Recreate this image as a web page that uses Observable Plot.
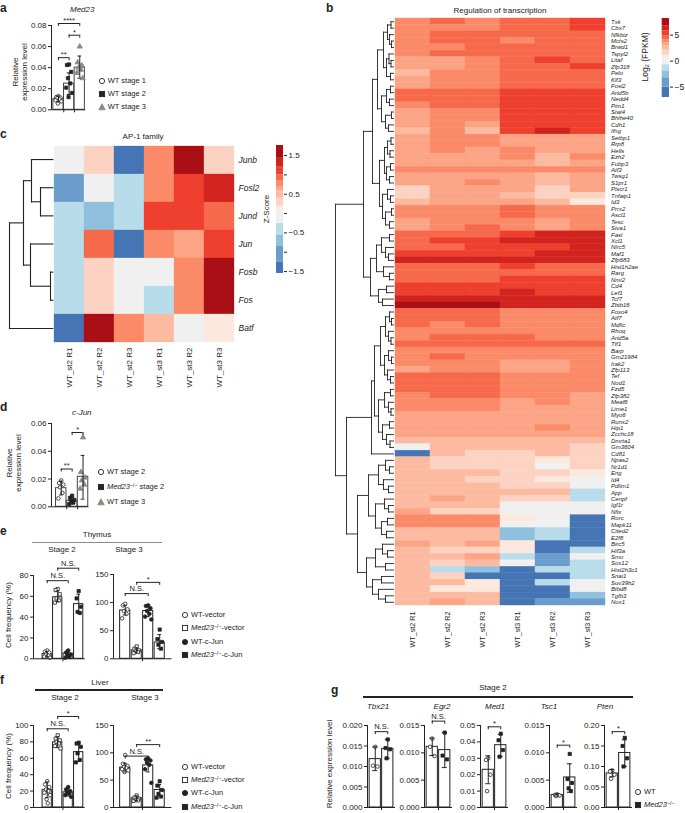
<!DOCTYPE html>
<html><head><meta charset="utf-8">
<script src="https://cdn.jsdelivr.net/npm/d3@7"></script>
<script src="https://cdn.jsdelivr.net/npm/@observablehq/plot@0.6"></script>
<style>
body{margin:0;background:#fff;}
#fig{position:relative;width:685px;height:813px;overflow:hidden;font-family:"Liberation Sans",Arial,Helvetica,sans-serif;color:#222;background:#fff;}
.abs{position:absolute;white-space:nowrap;line-height:1;}
sup{font-size:70%;line-height:0;vertical-align:0.45em;}
</style></head>
<body><div id="fig"></div>
<script>
// ---------------- DATA ----------------
// panel a (Med23)
const aMean = [0.0101, 0.0248, 0.0400];
const aLo = [0.0075, 0.0145, 0.0300];
const aHi = [0.0130, 0.0350, 0.0510];
const aPts = [[0.0130,0.0120,0.0115,0.0110,0.0100,0.0090,0.0080,0.0060],
              [0.0430,0.0425,0.0360,0.0300,0.0250,0.0210,0.0160,0.0120],
              [0.0600,0.0450,0.0420,0.0400,0.0380,0.0350,0.0300]];
const aBr = [[0,1,0.0495,"**"],[1,2,0.0708,"*"],[0,2,0.0819,"****"]];
// panel d (c-Jun)
const dMean = [0.0134, 0.0043, 0.0216];
const dLo = [0.0085, 0.0020, 0.0055];
const dHi = [0.0185, 0.0068, 0.0370];
const dPts = [[0.0190,0.0170,0.0160,0.0140,0.0100,0.0060],
              [0.0080,0.0065,0.0050,0.0040,0.0030,0.0020],
              [0.0500,0.0250,0.0210,0.0190,0.0160,0.0130]];
const dBr = [[0,1,0.0272,"**"],[1,2,0.0535,"*"]];
// panel e (thymus)
const eLMean = [4.5, 59, 5, 52.5], eLLo = [2, 55, 2, 45], eLHi = [7, 65, 8, 62];
const eLPts = [[8,7,6,4,3,2,1],[67,66,62,58,56,54],[8,6,4,3,2,1],[65,58,50,45,44]];
const eLBr = [[0,2,75,"N.S."],[1,3,87,"N.S."]];
const eRMean = [86, 15, 85, 29], eRLo = [78, 12, 75, 18], eRHi = [95, 19, 94, 43];
const eRPts = [[98,95,88,85,80,72],[22,18,15,13,12,10],[95,94,90,85,80,75,70],[52,35,30,25,18]];
const eRBr = [[0,2,116,"N.S."],[1,3,136,"*"]];
// panel f (liver)
const fLMean = [21.5, 79.5, 18.5, 67.5], fLLo = [12, 73, 14, 56], fLHi = [31, 86, 24, 77];
const fLPts = [[32,28,25,22,20,18,15,10,5],[88,84,82,80,78,75,72],[25,22,20,18,17,15,13],[79,78,74,66,58,55]];
const fLBr = [[0,2,96,"N.S."],[1,3,111,"*"]];
const fRMean = [73, 17, 77, 32], fRLo = [65, 13, 65, 22], fRHi = [81, 21, 88, 42];
const fRPts = [[96,80,76,74,72,70,68,65],[22,18,16,14,13,12],[90,88,86,82,78,70,45],[48,40,32,25,20,18]];
const fRBr = [[0,2,94,"N.S."],[1,3,115,"**"]];
// panel g (stage 2, WT vs Med23-/-)
const gGenes = ["Tbx21","Egr2","Med1","Tsc1","Pten"];
const gMax = [0.020, 0.015, 0.05, 0.015, 0.20];
const gStep = [0.005, 0.005, 0.01, 0.005, 0.05];
const gMean = [[0.0118,0.0143],[0.0111,0.0105],[0.023,0.038],[0.0023,0.0055],[0.083,0.133]];
const gLo = [[0.0090,0.0120],[0.0095,0.0073],[0.0145,0.031],[0.0021,0.0028],[0.075,0.100]];
const gHi = [[0.0148,0.0166],[0.0127,0.0137],[0.0315,0.0445],[0.0025,0.0080],[0.093,0.165]];
const gPtsWT = [[0.0148,0.0102,0.0100],[0.0126,0.0111,0.0094],[0.030,0.029,0.020,0.010],[0.0024,0.0023,0.0022,0.0021],[0.090,0.088,0.080,0.070]];
const gPtsKO = [[0.0166,0.0145,0.0142,0.0120],[0.0137,0.0095,0.0088],[0.045,0.041,0.035,0.031],[0.0098,0.0052,0.0045,0.0035,0.0030],[0.170,0.150,0.120,0.100]];
const gSig = [["N.S.",0.0185],["N.S.",0.0158],["*",0.0492],["*",0.0114],["*",0.185]];
// panel c (AP-1 family, z-score)
const cGenes = ["Junb","Fosl2","Jund","Jun","Fosb","Fos","Batf"];
const samples = ["WT_st2 R1","WT_st2 R2","WT_st2 R3","WT_st3 R1","WT_st3 R2","WT_st3 R3"];
const cZ = [
  [-0.1, 0.25, -1.5, 0.75, 1.6, 0.25],
  [-1.0, -0.1, -0.4, 0.75, 1.1, 1.3],
  [-0.4, -0.7, -0.4, 1.1, 1.1, 0.9],
  [-0.4, 0.9, -1.5, 0.8, 0.6, 1.1],
  [-0.4, 0.25, -0.1, -0.1, 0.75, 1.6],
  [-0.4, 0.25, -0.1, -0.4, 0.75, 1.6],
  [-1.5, 1.6, 0.75, 0.45, -0.1, 0.15]
];
// c dendrogram merges: [first row, last row, height]
const cTree = [[0,6,43.3],[0,5,29.3],[0,2,21.3],[1,2,12.3],[3,5,22.3],[4,5,2.3]];
// panel b (regulation of transcription, log2 FPKM)
const bGenes = ["Txk","Cbx7","Nfkbiz","Mcts2","Brwd1","Tspyl2","Litaf","Zfp318","Pelo","Klf3",
"Fosl2","Arid5b","Nedd4","Pim1","Stat4","Bhlhe40","Cdh1","Ifng","Setbp1","Rrp8",
"Hells","Ezh2","Fubp3","Atf3","Twsg1","S1pr1","Plscr1","Tnfaip1","Id3","Prrx2",
"Ascl1","Tesc","Siva1","Fasl","Xcl1","Nlrc5","Maf1","Zfp683","Hist1h2ae","Rarg",
"Nmi2","Cd4","Lef1","Tcf7","Zbtb16","Foxo4","Atf7","Mdfic","Rhoq","Arid5a",
"Ttf1","Barp","Gm21984","Irak2","Zfp113","Tef","Nod1","Fzd5","Zfp382","Meaf6",
"Lime1","Myo6","Runx2","Hip1","Zcchc18","Dmrta1","Gm3604","Cd81","Npas2","Nr1d1",
"Eng","Id4","Pdlim1","App","Cenpf","Igf1r","Nfix","Rorc","Mapk11","Cited2",
"E2f8","Birc5","Hif3a","Smo","Sox12","Hist2h3c1","Snai1","Suv39h2","Btbd8","Tgfb3","Nox1"];
const bVals = [
[3.8,4.5,3.8,4.3,4.3,5.3],[3.8,3.8,3.8,4.3,4.3,5.3],[3.8,4.3,4.3,4.3,4.3,4.3],[3.8,4.3,4.3,3.8,4.3,4.3],
[3.8,3.8,4.3,4.3,4.3,4.3],[3.8,4.3,4.3,4.3,4.3,4.3],[3.3,3.3,3.8,4.3,5.3,4.3],[3.3,3.3,3.8,4.3,4.3,5.3],
[2.6,3.8,3.8,4.3,4.3,4.3],[3.3,3.8,3.8,4.3,4.3,4.3],[3.3,3.8,3.8,4.3,4.3,4.3],[4.3,4.3,4.3,5.3,5.3,5.3],
[4.3,4.3,4.3,5.3,5.3,5.3],[3.8,4.3,4.3,5.3,5.3,5.3],[3.3,3.8,3.8,5.3,5.3,5.3],[3.3,3.8,3.8,5.3,5.3,5.3],
[3.3,3.8,3.0,5.3,5.3,5.3],[2.6,3.8,2.6,5.3,6.3,5.3],[3.3,3.8,3.8,3.3,3.3,3.3],[3.3,3.8,3.8,3.3,3.3,3.3],
[3.3,3.8,3.3,3.8,3.0,3.3],[3.0,3.3,3.3,3.8,2.6,3.8],[3.3,3.3,3.3,3.3,2.6,3.3],[3.8,3.8,3.8,3.8,3.8,3.8],
[3.0,3.3,3.3,3.3,2.6,3.3],[3.0,3.3,3.8,3.3,2.6,3.3],[2.0,3.3,3.3,3.0,1.8,3.0],[2.0,3.0,3.3,2.6,2.0,2.0],
[2.6,3.3,3.3,3.3,2.6,0.8],[3.8,3.8,3.8,4.3,3.8,3.8],[3.8,3.8,3.8,4.3,3.8,3.8],[3.3,3.8,3.8,3.8,3.3,3.8],
[3.3,3.8,4.3,3.8,3.3,3.8],[4.3,4.3,4.3,5.3,6.3,6.3],[4.3,5.3,5.3,6.3,6.3,6.3],[4.3,4.3,5.3,5.3,5.3,5.8],
[5.3,5.3,5.3,5.3,6.3,6.3],[6.3,6.3,6.3,6.3,6.3,6.3],[4.3,4.3,4.3,5.3,4.5,4.5],[4.3,4.3,4.3,4.3,4.5,4.5],
[4.3,4.3,4.3,5.3,5.3,5.3],[5.3,5.3,5.3,5.3,5.3,5.3],[5.3,5.3,5.3,6.0,5.3,5.3],[6.3,6.3,6.3,6.3,6.3,6.3],
[7.5,7.5,7.5,6.3,6.3,6.3],[4.3,4.3,4.3,3.8,3.8,3.8],[4.3,4.3,4.3,3.8,3.8,3.8],[4.3,3.8,4.3,3.8,3.8,3.8],
[3.8,3.8,3.8,3.8,3.8,3.8],[3.8,4.3,4.3,4.3,3.8,3.8],[4.3,4.3,4.3,4.3,4.3,4.5],[3.8,3.8,3.8,3.8,3.8,3.8],
[3.8,4.3,3.8,3.8,3.8,3.8],[3.8,3.8,3.8,3.3,3.3,3.8],[3.3,3.8,3.8,3.3,3.3,3.8],[4.3,4.3,4.3,3.8,3.8,3.8],
[4.3,4.3,4.3,3.8,3.8,3.8],[4.3,4.3,4.3,3.8,3.8,3.8],[3.8,4.3,4.3,3.8,3.8,3.3],[3.8,3.8,3.8,3.3,3.8,3.3],
[3.8,3.8,3.8,3.3,3.3,3.3],[3.3,3.3,3.3,3.3,3.3,3.3],[3.3,3.3,3.3,3.3,3.3,3.3],[3.3,3.3,3.3,3.3,3.8,3.3],
[3.3,3.3,3.3,3.0,3.3,3.0],[2.6,2.6,2.6,2.6,2.6,2.6],[0.0,2.6,2.6,2.6,2.6,2.0],[-6,2.6,2.0,2.0,2.6,2.0],
[2.6,2.0,2.0,1.8,0.8,1.8],[2.6,2.0,2.0,1.8,0.0,1.8],[2.6,2.6,2.6,2.0,1.5,0.8],[2.6,2.6,2.0,2.0,0.8,0.0],
[2.6,2.6,2.6,2.0,1.8,0.0],[2.6,2.6,2.6,2.6,2.6,-1.5],[2.6,3.3,2.6,1.5,1.5,-1.5],[2.6,2.6,2.6,0,0,0],
[3.0,1.5,1.5,0,0,0],[3.8,3.8,3.8,0.8,0,-6],[3.8,3.8,3.8,0,0,-6],[2.6,2.6,2.6,-2.5,-1.5,-6],
[2.6,2.6,2.6,-2.5,-1.5,-6],[3.0,2.6,3.0,0.8,-6,-6],[2.6,1.5,1.5,0.8,-6,-1.5],[2.6,2.6,3.3,-1.5,-4,0],
[2.6,1.5,2.6,0,-4,-1.5],[2.6,-1.5,-2.5,-6,-1.5,-1.5],[2.6,1.5,-6,-6,-6,-1.5],[2.6,2.6,0.8,-6,-1.5,0],
[2.6,0.8,0.8,-6,-6,0],[2.6,2.6,2.6,-6,-6,-2.5],[2.6,3.3,2.6,-6,-4,-4]];
// b dendrogram merges: [first row, last row, height]
const bTree = [[0,90,58],
[0,44,30],[0,32,21],[0,17,16],[0,9,10],[0,4,6],[0,1,2.5],[2,4,4],[3,4,2],[5,9,7],[5,7,4.5],[6,7,2.5],[8,9,3],
[10,17,12],[10,13,7],[10,11,3],[12,13,4],[14,17,8],[14,15,2],[16,17,5],
[18,32,14],[18,25,9],[18,21,6],[18,19,2.5],[20,21,3.5],[22,25,7],[22,23,3],[24,25,4],
[26,32,11],[26,28,6],[27,28,3],[29,32,8],[29,30,2],[31,32,4],
[33,44,23],[33,40,17],[33,37,12],[33,34,4],[35,37,8],[36,37,5],[38,40,10],[39,40,4],[41,44,15],[41,42,7],[43,44,11],
[45,90,47],[45,67,22],[45,66,19],[45,56,13],[45,50,8],[45,47,4],[46,47,2],[48,50,5],[49,50,2.5],
[51,56,9],[51,53,5],[52,53,2],[54,56,6],[55,56,3],[57,66,15],[57,61,9],[57,58,3],[59,61,5],[60,61,2.5],
[62,66,11],[62,63,4],[64,66,7],[65,66,3.5],
[68,90,36],[68,80,25],[68,73,15],[68,70,8],[69,70,4],[71,73,10],[72,73,5],[74,80,18],[74,76,9],[75,76,5],
[77,80,12],[77,78,6],[79,80,7],[81,90,27],[81,85,18],[81,83,11],[82,83,6],[84,85,8],[86,90,21],[86,87,12],[88,90,15],[89,90,8]];
// colour keys
const PAL = ["#4575b4","#6a9dcb","#8fc0dd","#b8dcea","#f0f0f0","#fde8de","#fcd3c2","#fcbba1","#fca486","#fb8a68","#f7694b","#ef3f2e","#d3231e","#a90f15"];
const bThr = [-5,-3.2,-2,-0.7,0.4,1.2,2.2,2.9,3.5,4.1,4.8,5.8,6.8];
const cThr = [-1.25,-0.85,-0.55,-0.25,0.1,0.2,0.4,0.6,0.7,0.85,1.0,1.2,1.45];
const bKey = [-7, 8.2], bKeyTicks = [-5, 0, 5];
const cKey = [-1.55, 1.76], cKeyTicks = [-1.5,-1,-0.5,0,0.5,1,1.5];

// ---------------- HELPERS ----------------
const FONT = '"Liberation Sans", Arial, Helvetica, sans-serif';
const fig = document.getElementById("fig");
const STYLE = {fontFamily: FONT, fontSize: "8px", color: "#222", background: "transparent", overflow: "visible"};
function place(el, x, y) { el.style.position = "absolute"; el.style.left = x + "px"; el.style.top = y + "px"; el.style.overflow = "visible"; fig.appendChild(el); }
function txt(html, x, y, o = {}) {
  const d = document.createElement("div");
  d.className = "abs"; d.innerHTML = html;
  d.style.left = x + "px"; d.style.top = y + "px";
  d.style.fontSize = (o.size || 8) + "px";
  if (o.bold) d.style.fontWeight = "bold";
  if (o.italic) d.style.fontStyle = "italic";
  if (o.lh) { d.style.lineHeight = o.lh; d.style.textAlign = "center"; }
  const ax = o.rotate ? "-50%" : (o.anchor === "middle" ? "-50%" : o.anchor === "end" ? "-100%" : "0");
  d.style.transform = `translate(${ax},-50%)` + (o.rotate ? ` rotate(${o.rotate}deg)` : "");
  fig.appendChild(d);
}
function hline(x1, x2, y, w, col) {
  const d = document.createElement("div");
  d.style.cssText = `position:absolute;left:${x1}px;top:${y - w/2}px;width:${x2-x1}px;height:${w}px;background:${col};`;
  fig.appendChild(d);
}
function legendItem(x, cy, sym, html) {
  const ns = "http://www.w3.org/2000/svg";
  const s = document.createElementNS(ns, "svg");
  s.setAttribute("width", 10); s.setAttribute("height", 10);
  s.style.cssText = `position:absolute;left:${x-5}px;top:${cy-5}px;overflow:visible`;
  let el;
  if (sym[1] === "c") { el = document.createElementNS(ns, "circle"); el.setAttribute("cx", 5); el.setAttribute("cy", 5); el.setAttribute("r", 2.6); }
  else if (sym[1] === "s") { el = document.createElementNS(ns, "rect"); el.setAttribute("x", 2.4); el.setAttribute("y", 2.4); el.setAttribute("width", 5.2); el.setAttribute("height", 5.2); }
  else { el = document.createElementNS(ns, "polygon"); el.setAttribute("points", "5,1.8 8.2,7.8 1.8,7.8"); }
  const open = sym[0] === "o";
  const grey = sym === "gt";
  el.setAttribute("fill", open ? "white" : grey ? "#8a8a8a" : "#222");
  el.setAttribute("stroke", grey ? "#8a8a8a" : "#222");
  el.setAttribute("stroke-width", 0.9);
  s.appendChild(el); fig.appendChild(s);
  txt(html, x + 6, cy, {size: 7.5});
}
const JIT = [0, -0.22, 0.22, -0.12, 0.12, -0.3, 0.3, -0.06, 0.06];
const STY = {
  oc: {symbol: "circle", fill: "white", stroke: "#222", r: 1.8},
  fc: {symbol: "circle", fill: "#222", stroke: "#222", r: 1.8},
  os: {symbol: "square", fill: "white", stroke: "#222", r: 1.8},
  fs: {symbol: "square", fill: "#222", stroke: "#222", r: 1.8},
  gt: {symbol: "triangle", fill: "#8a8a8a", stroke: "#8a8a8a", r: 2.0}
};
function barChart(c) {
  const n = c.mean.length;
  const L = c.axisX - 34, T = c.yTop - 28;
  const xEnd = c.xEnd ?? c.x1;
  const W = xEnd + 6 - L, H = c.y0 + 6 - T;
  const xs = d3.scaleLinear().domain([-0.5, n - 0.5]).range([c.x0, c.x1]);
  const aD = xs.invert(c.axisX), eD = xs.invert(xEnd);
  const pp = c.yMax / (c.y0 - c.yTop);
  const rows = c.mean.map((m, i) => ({i, m, lo: c.lo[i], hi: c.hi[i]}));
  const gap = c.gap ?? 0.04, cap = c.cap ?? 0.17, jw = c.jw ?? 0.9;
  const marks = [
    Plot.rect(rows, {x1: d => d.i - 0.5 + gap, x2: d => d.i + 0.5 - gap, y1: () => 0, y2: "m", fill: "white", stroke: c.barStroke || "#222", strokeWidth: 1})
  ];
  c.pts.forEach((arr, i) => {
    const s = STY[c.sym[i]];
    marks.push(Plot.dot(arr.map((v, k) => ({x: i + JIT[k % JIT.length] * jw, v})),
      {x: "x", y: "v", symbol: s.symbol, r: s.r, fill: s.fill, stroke: s.stroke, strokeWidth: 0.8}));
  });
  marks.push(
    Plot.ruleX(rows, {x: "i", y1: "lo", y2: "hi", stroke: "#222", strokeWidth: 1}),
    Plot.ruleY(rows, {y: "hi", x1: d => d.i - cap, x2: d => d.i + cap, stroke: "#222"}),
    Plot.ruleY(rows, {y: "lo", x1: d => d.i - cap, x2: d => d.i + cap, stroke: "#222"}),
    Plot.ruleX([{x: aD, a: 0, b: c.yMax}], {x: "x", y1: "a", y2: "b", stroke: "#222"}),
    Plot.ruleY([{y: 0, a: aD, b: eD}], {y: "y", x1: "a", x2: "b", stroke: "#222"}),
    Plot.ruleX((c.xt || []).map(x => ({x, a: 0, b: -3 * pp})), {x: "x", y1: "a", y2: "b", stroke: "#222"}),
    Plot.axisY(c.ticks, {anchor: "left", tickSize: 3, tickPadding: 2, tickFormat: c.fmt, fontSize: 8, label: null})
  );
  (c.br || []).forEach(([a, b, y, t]) => {
    marks.push(Plot.ruleY([{y, a, b}], {y: "y", x1: "a", x2: "b", stroke: "#222"}));
    marks.push(Plot.ruleX([{x: a, y1: y, y2: y - 3 * pp}, {x: b, y1: y, y2: y - 3 * pp}], {x: "x", y1: "y1", y2: "y2", stroke: "#222"}));
    marks.push(Plot.text([{x: (a + b) / 2, y, t}], {x: "x", y: "y", text: "t", dy: t.startsWith("N") ? -5 : -3, fontSize: 7.5}));
  });
  const svg = Plot.plot({
    width: W, height: H, marginLeft: c.axisX - L, marginTop: 0, marginRight: 0, marginBottom: 0,
    x: {type: "linear", domain: [-0.5, n - 0.5], range: [c.x0 - L, c.x1 - L], axis: null},
    y: {type: "linear", domain: [0, c.yMax], range: [c.y0 - T, c.yTop - T]},
    style: STYLE, marks
  });
  place(svg, L, T);
}
function dendroSegs(tree, n) {
  const key = (s, e) => s + "," + e;
  const hMap = new Map(tree.map(([s, e, h]) => [key(s, e), h]));
  const byStart = d3.group(tree, t => t[0]);
  const segs = [];
  function build(s, e) {
    const h = hMap.get(key(s, e));
    const kids = [];
    let i = s;
    while (i <= e) {
      const cands = (byStart.get(i) || []).filter(t => t[1] <= e && !(t[0] === s && t[1] === e));
      if (cands.length) {
        const best = cands.reduce((a, b) => (b[1] > a[1] ? b : a));
        kids.push(build(best[0], best[1])); i = best[1] + 1;
      } else { kids.push({h: 0, y: i}); i++; }
    }
    const y = (kids[0].y + kids[kids.length - 1].y) / 2;
    segs.push({x1: h, y1: kids[0].y, x2: h, y2: kids[kids.length - 1].y});
    kids.forEach(k => segs.push({x1: k.h, y1: k.y, x2: h, y2: k.y}));
    return {h, y};
  }
  build(0, n - 1);
  return segs;
}
function keyBands(thr, lim) {
  const sc = d3.scaleThreshold(thr, PAL);
  const edges = [lim[0], ...thr.filter(t => t > lim[0] && t < lim[1]), lim[1]];
  return d3.pairs(edges).map(([lo, hi]) => ({lo, hi, c: sc((lo + hi) / 2)}));
}

// ---------------- PANEL a ----------------
txt("a", 0, 8, {size: 12, bold: true});
txt("Med23", 70, 10, {italic: true});
txt("Relative<br>expression level", 19.5, 72, {rotate: -90, lh: 1.15});
barChart({axisX: 50.7, x0: 52.3, x1: 84.3, xEnd: 85, y0: 109.3, yTop: 25, yMax: 0.08,
  ticks: [0, 0.02, 0.04, 0.06, 0.08], fmt: d3.format(".2f"), mean: aMean, lo: aLo, hi: aHi,
  pts: aPts, sym: ["oc", "fs", "gt"], br: aBr, xt: [0.5, 1.5], gap: 0.02, barStroke: "#444"});
legendItem(101.7, 81, "oc", "WT stage 1");
legendItem(101.7, 93.5, "fs", "WT stage 2");
legendItem(101.7, 106.5, "gt", "WT stage 3");

// ---------------- PANEL c ----------------
txt("c", 0, 134, {size: 12, bold: true});
txt("AP-1 family", 143, 137, {anchor: "middle"});
const cData = cGenes.flatMap((g, r) => samples.map((s, j) => ({g, s, v: cZ[r][j]})));
place(Plot.plot({
  width: 300, height: 270, marginLeft: 52.3, marginRight: 65, marginTop: 20, marginBottom: 53,
  x: {domain: samples, padding: 0},
  y: {domain: cGenes, padding: 0, axis: null},
  color: {type: "threshold", domain: cThr, range: PAL},
  style: STYLE,
  marks: [
    Plot.cell(cData, {x: "s", y: "g", fill: "v", stroke: "v", strokeWidth: 0.3, inset: 0}),
    Plot.text(cGenes, {y: d => d, text: d => d, frameAnchor: "right", dx: 3, textAnchor: "start", fontStyle: "italic", fontSize: 8.5}),
    Plot.axisX({anchor: "bottom", tickSize: 0, tickPadding: 5, tickRotate: -90, fontSize: 8, label: null})
  ]
}), 0, 125);
place(Plot.plot({
  width: 60, height: 270, margin: 0,
  x: {type: "linear", domain: [0, 43.3], range: [52.3, 9], axis: null},
  y: {type: "linear", domain: [-0.5, 6.5], range: [20, 217], axis: null},
  style: STYLE,
  marks: [Plot.link(dendroSegs(cTree, cGenes.length), {x1: "x1", y1: "y1", x2: "x2", y2: "y2", stroke: "#222", strokeWidth: 1.1, strokeLinecap: "square"})]
}), 0, 125);
place(Plot.plot({
  width: 50, height: 170, marginLeft: 16, marginRight: 27, marginTop: 20, marginBottom: 22,
  x: {type: "linear", domain: [0, 1], axis: null},
  y: {type: "linear", domain: cKey},
  color: {type: "identity"},
  style: STYLE,
  marks: [
    Plot.rect(keyBands(cThr, cKey), {x1: () => 0, x2: () => 1, y1: "lo", y2: "hi", fill: "c"}),
    Plot.axisY(cKeyTicks, {anchor: "right", tickSize: 3, tickPadding: 2, fontSize: 8, label: null,
      tickFormat: d => (Math.round(Math.abs(d) * 2) % 2 === 1 ? d3.format(".1f")(d) : "")})
  ]
}), 260, 125);
txt("Z-Score", 267, 209, {rotate: -90, size: 8});

// ---------------- PANEL d ----------------
txt("d", 0, 407, {size: 12, bold: true});
txt("c-Jun", 72, 413, {italic: true});
txt("Relative<br>expression level", 14, 463, {rotate: -90, lh: 1.15});
barChart({axisX: 50.7, x0: 55, x1: 87.7, xEnd: 88, y0: 506, yTop: 422.7, yMax: 0.06,
  ticks: [0, 0.02, 0.04, 0.06], fmt: d3.format(".2f"), mean: dMean, lo: dLo, hi: dHi,
  pts: dPts, sym: ["oc", "fs", "gt"], br: dBr, xt: [0.5, 1.5], gap: 0.02, barStroke: "#444"});
legendItem(101, 472.3, "oc", "WT stage 2");
legendItem(101, 486.7, "fs", "<i>Med23</i><sup>−/−</sup> stage 2");
legendItem(101, 501.7, "gt", "WT stage 3");

// ---------------- PANEL e ----------------
txt("e", 0, 531, {size: 12, bold: true});
txt("Thymus", 97, 535, {anchor: "middle"});
hline(32, 162, 542.5, 1.4, "#8a8a8a");
txt("Stage 2", 62, 550, {anchor: "middle"});
txt("Stage 3", 129, 550, {anchor: "middle"});
txt("Cell frequency (%)", 9, 615, {rotate: -90});
const sym4 = ["oc", "os", "fc", "fs"];
barChart({axisX: 33.3, x0: 41.75, x1: 83.75, xEnd: 85, y0: 658.3, yTop: 575, yMax: 80,
  ticks: [0, 20, 40, 60, 80], fmt: d3.format("d"), mean: eLMean, lo: eLLo, hi: eLHi,
  pts: eLPts, sym: sym4, br: eLBr, xt: [1.5], gap: 0.06});
barChart({axisX: 113.3, x0: 119.25, x1: 165.25, xEnd: 171.7, y0: 658.3, yTop: 574, yMax: 150,
  ticks: [0, 50, 100, 150], fmt: d3.format("d"), mean: eRMean, lo: eRLo, hi: eRHi,
  pts: eRPts, sym: sym4, br: eRBr, xt: [1.5], gap: 0.06});
legendItem(185, 615, "oc", "WT-vector");
legendItem(185, 628.3, "os", "<i>Med23</i><sup>−/−</sup>-vector");
legendItem(185, 641.7, "fc", "WT-c-Jun");
legendItem(185, 655, "fs", "<i>Med23</i><sup>−/−</sup>-c-Jun");

// ---------------- PANEL f ----------------
txt("f", 0, 680, {size: 12, bold: true});
txt("Liver", 100, 683, {anchor: "middle"});
hline(35, 163, 690, 1.4, "#222");
txt("Stage 2", 65, 698, {anchor: "middle"});
txt("Stage 3", 145, 698, {anchor: "middle"});
txt("Cell frequency (%)", 9, 766, {rotate: -90});
barChart({axisX: 33.3, x0: 41.75, x1: 83.75, xEnd: 85, y0: 806.5, yTop: 724.5, yMax: 100,
  ticks: [0, 20, 40, 60, 80, 100], fmt: d3.format("d"), mean: fLMean, lo: fLLo, hi: fLHi,
  pts: fLPts, sym: sym4, br: fLBr, xt: [1.5], gap: 0.06});
barChart({axisX: 113.3, x0: 119.25, x1: 165.25, xEnd: 171.7, y0: 806.5, yTop: 724.5, yMax: 150,
  ticks: [0, 50, 100, 150], fmt: d3.format("d"), mean: fRMean, lo: fRLo, hi: fRHi,
  pts: fRPts, sym: sym4, br: fRBr, xt: [1.5], gap: 0.06});
legendItem(185, 766.7, "oc", "WT-vector");
legendItem(185, 780, "os", "<i>Med23</i><sup>−/−</sup>-vector");
legendItem(185, 793.3, "fc", "WT-c-Jun");
legendItem(185, 806.5, "fs", "<i>Med23</i><sup>−/−</sup>-c-Jun");

// ---------------- PANEL g ----------------
txt("g", 331, 690, {size: 12, bold: true});
txt("Stage 2", 493, 688, {anchor: "middle"});
hline(363, 633, 697, 1.2, "#222");
txt("Relative expression level", 330, 764, {rotate: -90});
const gAxisX = [366.7, 424.3, 480, 549.3, 604];
const gTitleX = [378, 442, 495, 549, 605];
gGenes.forEach((gname, k) => {
  txt(gname, gTitleX[k], 707, {anchor: "middle", italic: true});
  const step = gStep[k], ticks = d3.range(0, gMax[k] + step / 2, step);
  const fmt = d3.format(step < 0.01 ? ".3f" : ".2f");
  barChart({axisX: gAxisX[k], x0: gAxisX[k] + 1.5, x1: gAxisX[k] + 26.5, xEnd: gAxisX[k] + 28, y0: 806.5, yTop: 724.5, yMax: gMax[k],
    ticks, fmt, mean: gMean[k], lo: gLo[k], hi: gHi[k], pts: [gPtsWT[k], gPtsKO[k]], sym: ["oc", "fs"],
    br: [[0, 1, gSig[k][1], gSig[k][0]]], xt: [0.5], gap: 0.05, cap: 0.2, jw: 0.8});
});
legendItem(638, 791.7, "oc", "WT");
legendItem(638, 805, "fs", "<i>Med23</i><sup>−/−</sup>");

// ---------------- PANEL b ----------------
txt("b", 326, 8, {size: 12, bold: true});
txt("Regulation of transcription", 500, 11, {anchor: "middle"});
const bData = bGenes.flatMap((g, r) => samples.map((s, j) => ({g, s, v: bVals[r][j]})));
place(Plot.plot({
  width: 385, height: 700, marginLeft: 93, marginRight: 77.5, marginTop: 18, marginBottom: 95,
  x: {domain: samples, padding: 0},
  y: {domain: bGenes, padding: 0, axis: null},
  color: {type: "threshold", domain: bThr, range: PAL},
  style: STYLE,
  marks: [
    Plot.cell(bData, {x: "s", y: "g", fill: "v", stroke: "v", strokeWidth: 0.4, inset: 0}),
    Plot.text(bGenes, {y: d => d, text: d => d, frameAnchor: "right", dx: 3, textAnchor: "start", fontStyle: "italic", fontSize: 6}),
    Plot.axisX({anchor: "bottom", tickSize: 0, tickPadding: 6, tickRotate: -90, fontSize: 7.2, label: null})
  ]
}), 300, 0);
place(Plot.plot({
  width: 70, height: 620, margin: 0,
  x: {type: "linear", domain: [0, 58], range: [63, 5], axis: null},
  y: {type: "linear", domain: [-0.5, bGenes.length - 0.5], range: [18, 605], axis: null},
  style: STYLE,
  marks: [Plot.link(dendroSegs(bTree, bGenes.length), {x1: "x1", y1: "y1", x2: "x2", y2: "y2", stroke: "#222", strokeWidth: 0.9, strokeLinecap: "square"})]
}), 330, 0);
place(Plot.plot({
  width: 55, height: 110, marginLeft: 31.7, marginRight: 16, marginTop: 18, marginBottom: 13,
  x: {type: "linear", domain: [0, 1], axis: null},
  y: {type: "linear", domain: bKey},
  color: {type: "identity"},
  style: STYLE,
  marks: [
    Plot.rect(keyBands(bThr, bKey), {x1: () => 0, x2: () => 1, y1: "lo", y2: "hi", fill: "c"}),
    Plot.axisY(bKeyTicks, {anchor: "right", tickSize: 3, tickPadding: 2, fontSize: 8.5, label: null, tickFormat: d3.format("d")})
  ]
}), 630, 0);
txt("Log<sub style='font-size:70%;vertical-align:-0.25em;line-height:0'>2</sub> (FPKM)", 645, 57, {rotate: -90, size: 8.5});
</script>
</body></html>
